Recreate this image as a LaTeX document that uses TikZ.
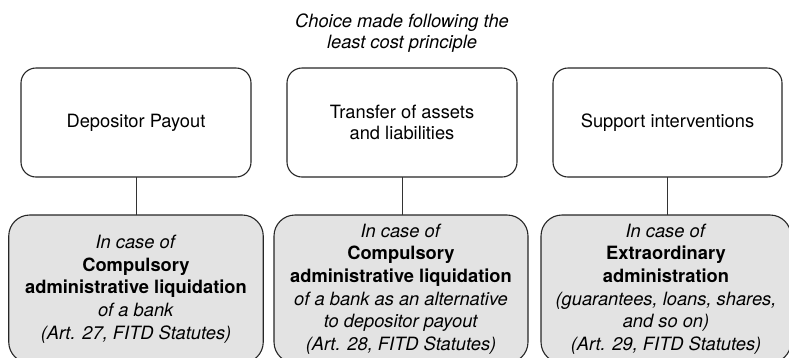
\documentclass[tikz,border=0pt]{standalone}
\usepackage{fontspec}
\setmainfont{TeX Gyre Heros}
\begin{document}
\begin{tikzpicture}[x=1pt,y=-1pt,
  every node/.style={inner sep=0pt, outer sep=0pt},
  choicebox/.style={draw=black!85, line width=1.1pt, rounded corners=15pt,
    fill=white, align=center, font=\fontsize{18.3}{20.5}\selectfont},
  casebox/.style={draw=black!85, line width=1.1pt, rounded corners=21pt,
    fill=black!11, align=center, font=\fontsize{18.3}{22.7}\selectfont},
  link/.style={draw=black!80, line width=1pt}]
\useasboundingbox (0,0) rectangle (789,357);

% heading
\node[align=center, font=\fontsize{18.3}{21.5}\selectfont\itshape] (head) at (402,33)
  {Choice made following the\\least cost principle};

% the three options
\node[choicebox, minimum width=230pt, minimum height=109pt] (b1) at (136,122.5)
  {Depositor Payout};
\node[choicebox, minimum width=230pt, minimum height=109pt] (b2) at (402,122.5)
  {Transfer of assets\\and liabilities};
\node[choicebox, minimum width=229pt, minimum height=109pt] (b3) at (667.5,122.5)
  {Support interventions};

% the cases in which each option applies
\node[casebox, minimum width=254.5pt, minimum height=148pt] (c1) at (136,289)
  {\textit{In case of}\\\textbf{Compulsory}\\\textbf{administrative liquidation}\\\textit{of a bank}\\\textit{(Art. 27, FITD Statutes)}};
\node[casebox, minimum width=254pt, minimum height=148pt] (c2) at (401,289)
  {\textit{In case of}\\\textbf{Compulsory}\\\textbf{administrative liquidation}\\\textit{of a bank as an alternative}\\\textit{to depositor payout}\\\textit{(Art. 28, FITD Statutes)}};
\node[casebox, minimum width=250pt, minimum height=148pt] (c3) at (666,289)
  {\textit{In case of}\\\textbf{Extraordinary}\\\textbf{administration}\\\textit{(guarantees, loans, shares,}\\\textit{and so on)}\\\textit{(Art. 29, FITD Statutes)}};

% connectors
\draw[link] (b1.south) -- (b1.south |- c1.north);
\draw[link] (b2.south) -- (b2.south |- c2.north);
\draw[link] (b3.south) -- (b3.south |- c3.north);
\end{tikzpicture}
\end{document}
